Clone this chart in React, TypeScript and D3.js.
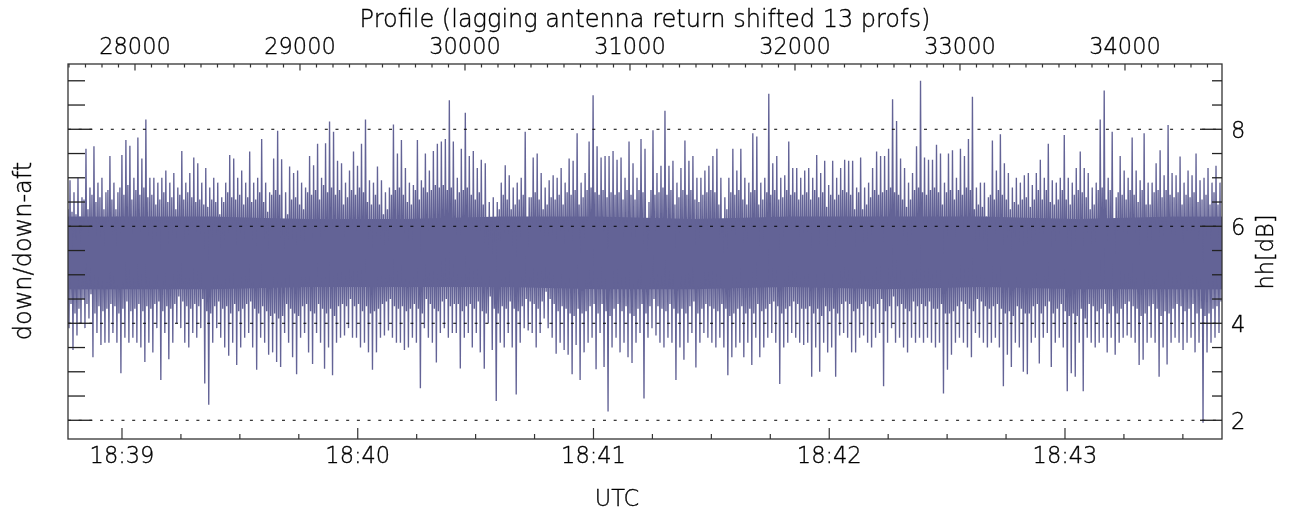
import React from "react";
import * as d3 from "d3";

// time axis (UTC) and profile axis ranges
const startTime = new Date(2013, 0, 1, 18, 38, 46, 260);
const endTime = new Date(2013, 0, 1, 18, 43, 39, 960);
const profileRange = [27594, 34588];
const hhRange = [1.614, 9.346];
const labelledLevels = [2, 4, 6, 8];

// per-bin maxima of the hh trace (dB)
const hhHigh = [
  6.95, 6.7, 7.0, 6.6, 7.6, 6.8, 7.65, 6.9, 7.0, 6.7,
  7.45, 6.9, 6.7, 7.47, 7.78, 7.66, 7.0, 7.83, 7.4, 8.2,
  7.0, 7.0, 6.9, 7.0, 7.15, 6.9, 7.1, 6.8, 7.55, 6.9,
  7.1, 7.42, 7.3, 6.9, 7.2, 6.8, 7.0, 6.9, 6.6, 6.9,
  7.47, 7.4, 7.0, 7.15, 6.9, 7.54, 6.9, 7.0, 7.8,
  6.9, 6.7, 7.4, 7.97, 7.38, 6.7, 7.23, 7.1, 7.15, 6.9,
  6.8, 7.45, 7.26, 7.7, 7.0, 7.71, 8.16, 7.95, 7.35, 7.3,
  6.9, 7.15, 7.54, 7.25, 7.7, 8.2, 6.95, 6.9, 7.23, 6.95,
  6.7, 6.8, 8.1, 7.5, 7.78, 7.2, 6.9, 6.85, 7.78, 6.95,
  7.5, 7.15, 7.55, 7.7, 7.75, 7.8, 8.6, 7.75,
  7.0, 7.6, 8.34, 7.45, 7.55, 7.2, 7.37, 7.3, 6.5, 6.6,
  6.5, 6.9, 7.26, 7.05, 6.8, 6.9, 7.0, 7.95, 6.6, 7.42,
  7.5, 7.1, 6.8, 6.95, 7.05, 7.0, 7.2, 6.9, 7.4, 7.35,
  7.92, 6.9, 7.1, 7.75, 8.7, 7.65, 7.42, 7.45, 7.45, 7.55,
  7.37, 7.42, 7.0, 7.75, 7.3, 7.0, 7.8, 7.6, 6.5,
  7.98, 7.1, 7.25, 8.38, 7.25, 7.35, 6.9, 7.2, 7.77, 7.35,
  7.45, 7.0, 7.0, 7.15, 7.25, 7.45, 7.6, 7.0, 6.6, 7.0,
  7.6, 7.15, 7.6, 7.0, 6.9, 7.92, 7.85, 6.9, 7.0, 8.73,
  7.3, 7.45, 7.0, 7.05, 7.75, 7.2, 7.2, 7.0, 7.15, 7.2,
  7.0, 7.47, 7.1, 7.35, 6.85, 7.35, 7.0, 7.2,
  7.37, 7.35, 7.35, 6.8, 7.42, 6.8, 6.9, 7.2, 7.54, 7.45,
  7.45, 7.6, 8.62, 8.17, 7.4, 7.2, 6.9, 7.1, 7.65, 9.0,
  7.42, 7.37, 7.37, 7.68, 7.5, 6.9, 7.5, 7.57, 7.0, 7.6,
  7.45, 7.8, 8.67, 6.8, 6.9, 6.9, 6.6, 7.77, 7.15, 7.9,
  7.3, 7.1, 6.8, 7.0, 6.9, 7.05, 7.1, 6.85, 7.1,
  7.37, 7.0, 7.7, 6.95, 6.9, 7.0, 7.88, 7.0, 6.9, 7.2,
  7.54, 7.2, 7.1, 6.8, 6.9, 8.2, 8.8, 7.0, 7.95, 6.6,
  7.45, 7.15, 7.0, 7.83, 7.15, 6.95, 7.92, 6.9, 6.9, 7.3,
  7.57, 7.05, 8.09, 7.1, 7.05, 7.44, 6.9, 7.15, 7.05, 7.5,
  6.95, 7.0, 7.2, 6.9, 7.25, 6.9,
];

// per-bin minima of the hh trace (dB)
const hhLow = [
  3.9, 3.45, 3.75, 4.0, 3.9, 4.1, 3.3, 3.8, 3.55, 3.6,
  3.6, 3.8, 3.6, 2.97, 3.7, 3.6, 3.7, 3.6, 3.5, 3.2,
  3.6, 3.4, 3.9, 2.83, 3.8, 3.26, 3.6, 4.0, 3.9, 3.6,
  3.5, 3.8, 3.7, 3.9, 2.76, 2.32, 3.6, 3.9, 3.7, 3.5,
  3.33, 3.6, 3.14, 3.5, 3.7, 3.8, 3.5, 3.04, 3.7,
  3.6, 3.35, 3.4, 3.2, 3.1, 3.8, 3.6, 3.3, 2.95, 3.7,
  3.8, 3.4, 3.16, 3.8, 3.6, 3.06, 3.5, 2.93, 3.6, 3.7,
  3.75, 3.9, 3.7, 3.7, 3.5, 3.6, 3.4, 3.04, 3.4, 3.7,
  3.75, 3.85, 3.7, 3.6, 3.6, 3.45, 3.5, 3.7, 3.6, 2.66,
  3.9, 3.7, 3.6, 3.19, 3.8, 3.9, 3.7, 3.8,
  3.8, 3.07, 3.7, 3.8, 3.5, 3.8, 3.4, 3.06, 4.0, 3.45,
  2.4, 3.6, 3.5, 3.8, 3.5, 2.53, 3.6, 3.9, 3.85, 3.8,
  3.5, 3.8, 4.1, 3.9, 3.7, 3.37, 3.6, 3.45, 3.35, 2.95,
  3.55, 2.83, 3.4, 3.6, 3.7, 3.05, 3.8, 3.1, 2.18, 3.5,
  3.7, 3.4, 3.6, 3.3, 3.18, 3.6, 3.8, 2.45, 3.7,
  3.9, 3.75, 3.6, 3.5, 3.7, 3.6, 2.83, 3.5, 3.25, 3.6,
  3.8, 3.09, 3.6, 3.8, 3.7, 3.6, 3.5, 3.7, 3.5, 2.93,
  3.3, 3.5, 3.6, 3.3, 3.6, 3.14, 3.7, 3.3, 3.5, 3.7,
  3.8, 3.6, 2.75, 3.5, 3.6, 3.8, 3.7, 3.6, 3.55, 3.6,
  2.9, 3.5, 3.0, 3.6, 3.4, 3.5, 2.9, 3.75,
  3.8, 3.7, 3.4, 3.4, 3.7, 3.75, 3.6, 3.5, 3.7, 3.8,
  2.7, 3.6, 3.9, 3.6, 3.7, 3.5, 3.4, 3.7, 3.6, 3.7,
  3.6, 3.7, 3.6, 3.5, 3.6, 2.55, 3.04, 3.35, 3.6, 3.7,
  3.6, 3.5, 3.3, 3.8, 3.7, 3.6, 3.5, 3.6, 3.7, 3.5,
  2.7, 3.35, 3.1, 3.6, 3.5, 3.0, 2.95, 3.6, 3.7,
  3.17, 3.7, 3.8, 3.1, 3.6, 3.7, 3.5, 2.6, 2.97, 2.9,
  3.6, 2.6, 3.7, 3.6, 3.5, 3.6, 3.7, 3.4, 3.7, 3.35,
  3.6, 3.7, 3.75, 3.7, 3.6, 3.14, 3.25, 3.6, 3.7, 3.6,
  2.9, 3.5, 3.15, 3.6, 3.7, 3.6, 3.45, 3.6, 3.7, 3.4,
  3.6, 1.95, 3.4, 3.6, 3.7, 3.8,
];

// upper edge of the nearly solid part of the trace in each bin (dB)
const solidTop = [
  6.35, 6.3, 6.25, 6.2, 6.55, 6.35, 6.65, 6.5, 6.6, 6.35,
  6.75, 6.55, 6.35, 6.8, 6.65, 6.85, 6.55, 6.75, 6.65, 6.8,
  6.6, 6.65, 6.45, 6.55, 6.7, 6.5, 6.6, 6.35, 6.65, 6.55,
  6.7, 6.6, 6.5, 6.55, 6.45, 6.4, 6.55, 6.5, 6.25, 6.5,
  6.7, 6.6, 6.55, 6.65, 6.45, 6.6, 6.5, 6.55, 6.7,
  6.5, 6.3, 6.65, 6.75, 6.65, 6.05, 6.25, 6.55, 6.6, 6.45,
  6.35, 6.7, 6.65, 6.75, 6.55, 6.85, 6.7, 6.8, 6.65, 6.75,
  6.45, 6.6, 6.75, 6.65, 6.8, 6.7, 6.5, 6.45, 6.65, 6.45,
  6.25, 6.35, 6.65, 6.75, 6.8, 6.65, 6.5, 6.45, 6.75, 6.55,
  6.8, 6.7, 6.75, 6.85, 6.8, 6.85, 6.75, 6.8,
  6.55, 6.7, 6.75, 6.8, 6.65, 6.55, 6.7, 6.45, 6.05, 6.1,
  6.05, 6.35, 6.65, 6.55, 6.35, 6.45, 6.55, 6.65, 6.15, 6.6,
  6.7, 6.55, 6.35, 6.45, 6.6, 6.55, 6.65, 6.45, 6.7, 6.65,
  6.75, 6.45, 6.6, 6.75, 6.8, 6.7, 6.65, 6.75, 6.6, 6.7,
  6.65, 6.7, 6.55, 6.75, 6.65, 6.55, 6.75, 6.7, 6.1,
  6.75, 6.65, 6.7, 6.8, 6.65, 6.75, 6.45, 6.6, 6.75, 6.65,
  6.75, 6.55, 6.5, 6.65, 6.7, 6.75, 6.7, 6.45, 6.15, 6.35,
  6.7, 6.65, 6.75, 6.55, 6.45, 6.7, 6.75, 6.45, 6.55, 6.7,
  6.65, 6.75, 6.55, 6.6, 6.75, 6.65, 6.7, 6.55, 6.65, 6.7,
  6.55, 6.75, 6.6, 6.7, 6.4, 6.65, 6.55, 6.65,
  6.75, 6.7, 6.65, 6.35, 6.7, 6.35, 6.45, 6.6, 6.75, 6.65,
  6.7, 6.75, 6.8, 6.7, 6.65, 6.55, 6.4, 6.55, 6.75, 6.8,
  6.7, 6.65, 6.75, 6.8, 6.7, 6.45, 6.7, 6.75, 6.55, 6.75,
  6.65, 6.8, 6.75, 6.35, 6.45, 6.4, 6.2, 6.65, 6.55, 6.75,
  6.65, 6.55, 6.35, 6.5, 6.45, 6.55, 6.6, 6.4, 6.55,
  6.75, 6.55, 6.75, 6.5, 6.45, 6.55, 6.75, 6.55, 6.45, 6.65,
  6.75, 6.7, 6.6, 6.35, 6.45, 6.75, 6.8, 6.55, 6.75, 6.15,
  6.7, 6.65, 6.55, 6.75, 6.65, 6.5, 6.75, 6.45, 6.45, 6.7,
  6.75, 6.6, 6.75, 6.65, 6.6, 6.7, 6.45, 6.65, 6.6, 6.7,
  6.5, 6.55, 6.65, 6.45, 6.7, 6.45,
];

// lower edge of the nearly solid part of the trace in each bin (dB)
const solidBottom = [
  4.4, 4.2, 4.3, 4.5, 4.4, 4.6, 4.2, 4.35, 4.25, 4.3,
  4.4, 4.35, 4.2, 4.3, 4.45, 4.25, 4.3, 4.4, 4.25, 4.35,
  4.3, 4.4, 4.45, 4.25, 4.35, 4.3, 4.4, 4.55, 4.45, 4.35,
  4.3, 4.4, 4.35, 4.5, 4.25, 4.2, 4.35, 4.45, 4.3, 4.35,
  4.2, 4.4, 4.25, 4.3, 4.4, 4.45, 4.3, 4.2, 4.35,
  4.25, 4.15, 4.2, 4.1, 4.15, 4.4, 4.3, 4.2, 4.15, 4.35,
  4.4, 4.25, 4.2, 4.4, 4.3, 4.2, 4.3, 4.15, 4.35, 4.4,
  4.35, 4.5, 4.35, 4.4, 4.25, 4.35, 4.2, 4.25, 4.3, 4.4,
  4.45, 4.5, 4.35, 4.3, 4.35, 4.25, 4.3, 4.4, 4.3, 4.2,
  4.5, 4.4, 4.3, 4.25, 4.45, 4.5, 4.35, 4.4,
  4.4, 4.25, 4.35, 4.4, 4.3, 4.45, 4.25, 4.2, 4.55, 4.3,
  4.2, 4.35, 4.3, 4.45, 4.3, 4.25, 4.35, 4.5, 4.45, 4.4,
  4.3, 4.45, 4.65, 4.5, 4.4, 4.25, 4.35, 4.3, 4.2, 4.15,
  4.3, 4.2, 4.25, 4.35, 4.4, 4.2, 4.4, 4.25, 4.15, 4.3,
  4.4, 4.25, 4.35, 4.2, 4.15, 4.3, 4.4, 4.2, 4.35,
  4.5, 4.35, 4.3, 4.25, 4.4, 4.3, 4.2, 4.3, 4.2, 4.35,
  4.45, 4.2, 4.3, 4.4, 4.35, 4.3, 4.25, 4.4, 4.3, 4.15,
  4.2, 4.3, 4.35, 4.2, 4.3, 4.2, 4.4, 4.25, 4.3, 4.4,
  4.45, 4.35, 4.2, 4.3, 4.35, 4.45, 4.4, 4.3, 4.3, 4.35,
  4.2, 4.3, 4.15, 4.35, 4.25, 4.3, 4.2, 4.4,
  4.45, 4.4, 4.25, 4.3, 4.4, 4.45, 4.35, 4.3, 4.4, 4.5,
  4.25, 4.35, 4.55, 4.35, 4.4, 4.3, 4.25, 4.45, 4.35, 4.4,
  4.35, 4.45, 4.3, 4.3, 4.4, 4.2, 4.2, 4.25, 4.35, 4.45,
  4.4, 4.3, 4.25, 4.5, 4.45, 4.35, 4.3, 4.35, 4.4, 4.3,
  4.2, 4.25, 4.15, 4.35, 4.3, 4.2, 4.2, 4.35, 4.4,
  4.2, 4.35, 4.45, 4.2, 4.3, 4.4, 4.25, 4.15, 4.2, 4.15,
  4.3, 4.1, 4.4, 4.35, 4.25, 4.3, 4.4, 4.2, 4.35, 4.2,
  4.3, 4.4, 4.45, 4.35, 4.3, 4.15, 4.2, 4.35, 4.4, 4.3,
  4.15, 4.25, 4.2, 4.3, 4.4, 4.35, 4.25, 4.3, 4.4, 4.2,
  4.3, 4.15, 4.2, 4.3, 4.35, 4.45,
];

// innermost band of the trace, fully filled, in coarse segments (dB)
const coreTop = [6.2, 6.2, 6.15, 6.15, 6.2, 6.2, 6.15, 6.2, 6.2, 6.2, 6.15, 6.2];
const coreBottom = [4.7, 4.7, 4.75, 4.75, 4.75, 4.7, 4.7, 4.75, 4.7, 4.75, 4.7, 4.7];

const FONT = "'DejaVu Sans', sans-serif";
const INK = "#000";
const TRACE = "#636396";

export default function App() {
  const width = 1292;
  const height = 514;
  const left = 68, right = 1222, top = 64, bottom = 439;

  const xTime = d3.scaleTime().domain([startTime, endTime]).range([left, right]);
  const xProf = d3.scaleLinear().domain(profileRange).range([left, right]);
  const y = d3.scaleLinear().domain(hhRange).range([bottom, top]);

  const t0 = startTime.getTime();
  const span = endTime.getTime() - t0;
  const n = hhHigh.length;
  const at = (f: number) => xTime(new Date(t0 + (span * f) / n));

  // trace: extremes of each bin interleaved with the edges of its solid part
  const pts: [number, number][] = [];
  hhHigh.forEach((h, i) => {
    pts.push([at(i + 0.0), y(solidTop[i])]);
    pts.push([at(i + 0.25), y(hhLow[i])]);
    pts.push([at(i + 0.5), y(h)]);
    pts.push([at(i + 0.75), y(solidBottom[i])]);
  });
  const tracePath = d3.line()(pts) || "";

  const m = coreTop.length;
  const corePath =
    d3
      .area<number>()
      .x((j) => xTime(new Date(t0 + (span * (j + 0.5)) / m)))
      .y0((j) => y(coreBottom[j]))
      .y1((j) => y(coreTop[j]))(d3.range(m)) || "";
  const coreEnds = [0, m - 1];

  const minuteTicks = d3.timeMinute.every(1)!.range(startTime, endTime);
  const secTicks = d3.timeSecond.every(15)!.range(startTime, endTime);
  const profMajor = d3.range(28000, profileRange[1], 1000);
  const profMinor = d3.range(27600, profileRange[1], 100);
  const yTicks = d3.range(2, 9.01, 0.5);
  const fmt = d3.timeFormat("%H:%M");

  return (
    <svg
      width={width}
      height={height}
      style={{ position: "absolute", left: 0, top: 0, background: "#fff" }}
      fontFamily={FONT}
      fontWeight={200}
    >
      <defs>
        <clipPath id="plot-clip">
          <rect x={left} y={top} width={right - left} height={bottom - top} />
        </clipPath>
      </defs>

      <g clipPath="url(#plot-clip)">
        <path d={corePath} fill={TRACE} />
        {coreEnds.map((j) => (
          <rect
            key={"ce" + j}
            x={j === 0 ? left : xTime(new Date(t0 + (span * (j + 0.5)) / m))}
            y={y(coreTop[j])}
            width={(right - left) / m / 2 + 1}
            height={y(coreBottom[j]) - y(coreTop[j])}
            fill={TRACE}
          />
        ))}
        <path d={tracePath} fill="none" stroke={TRACE} strokeWidth={1.35} />
      </g>

      {/* dotted reference levels */}
      {labelledLevels.map((v) => (
        <line
          key={"g" + v}
          x1={left}
          x2={right}
          y1={y(v)}
          y2={y(v)}
          stroke="#000"
          strokeWidth={1}
          strokeDasharray="3,7.7"
        />
      ))}

      {/* frame */}
      <rect x={left} y={top} width={right - left} height={bottom - top} fill="none" stroke="#333" strokeWidth={1.3} />

      {/* bottom axis */}
      {secTicks.map((d) => {
        const major = d.getSeconds() === 0;
        return (
          <line key={"bt" + d.getTime()} x1={xTime(d)} x2={xTime(d)} y1={bottom} y2={bottom - (major ? 11 : 5)} stroke="#333" strokeWidth={1.2} />
        );
      })}

      {/* top axis */}
      {profMinor.map((p) => {
        const major = p % 1000 === 0;
        return (
          <line key={"tt" + p} x1={xProf(p)} x2={xProf(p)} y1={top} y2={top + (major ? 6.5 : 3.5)} stroke="#333" strokeWidth={1.2} />
        );
      })}

      {/* left axis (unlabelled) and right axis */}
      {yTicks.map((v) => {
        const major = labelledLevels.includes(v);
        return (
          <g key={"yt" + v}>
            <line x1={left} x2={left + (major ? 24 : 17)} y1={y(v)} y2={y(v)} stroke="#222" strokeWidth={1.3} />
            <line x1={right} x2={right - (major ? 22 : 10)} y1={y(v)} y2={y(v)} stroke="#222" strokeWidth={1.3} />
          </g>
        );
      })}

      {/* all labels */}
      <g fill={INK} stroke={INK} strokeWidth={0.35} style={{ opacity: 0.999 }}>
        {minuteTicks.map((d) => (
          <text key={"bl" + d.getTime()} x={xTime(d)} y={463} textAnchor="middle" fontSize={22.5}>
            {fmt(d)}
          </text>
        ))}
        <text x={617} y={506} textAnchor="middle" fontSize={22.5}>
          UTC
        </text>
        {profMajor.map((p) => (
          <text key={"tl" + p} x={xProf(p)} y={54} textAnchor="middle" fontSize={22.5}>
            {p}
          </text>
        ))}
        <text x={645} y={27} textAnchor="middle" fontSize={24}>
          Profile (lagging antenna return shifted 13 profs)
        </text>
        {labelledLevels.map((v) => (
          <text key={"yl" + v} x={1231} y={y(v) + 8.5} fontSize={22.5}>
            {v}
          </text>
        ))}
        <text transform="translate(31,251) rotate(-90)" textAnchor="middle" fontSize={24}>
          down/down-aft
        </text>
        <text transform="translate(1273,252) rotate(-90)" textAnchor="middle" fontSize={22.5}>
          hh[dB]
        </text>
      </g>
    </svg>
  );
}
